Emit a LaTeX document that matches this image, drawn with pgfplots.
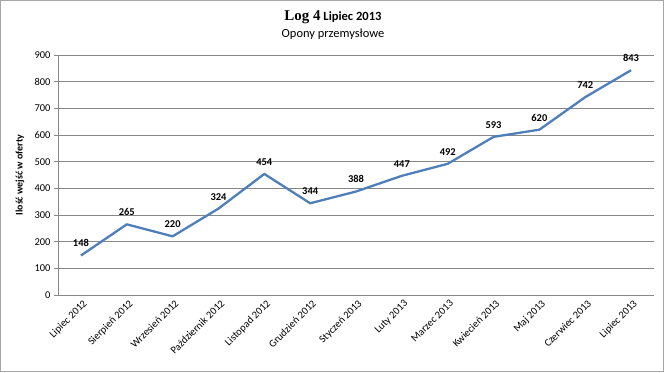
\documentclass[border=0pt]{standalone}
\usepackage{pgfplots}
\pgfplotsset{compat=1.18}
\usepackage{fontspec}
\setmainfont{Carlito}
\newfontfamily\titleserif{Liberation Serif}
\definecolor{lineblue}{HTML}{4F7FBA}
\definecolor{gridgray}{HTML}{878787}
\begin{document}
\begin{tikzpicture}[x=1bp,y=1bp]
\useasboundingbox (0,0) rectangle (666,372);
\draw[gray!70, line width=1bp] (0.5,1) rectangle (663.5,371.5);
\node[font=\fontsize{12.6}{14}\selectfont\bfseries] at (333,355) {{\titleserif\fontsize{15}{17}\selectfont Log 4} Lipiec 2013};
\node[font=\fontsize{12.5}{14}\selectfont] at (333,338) {Opony przemysłowe};
\begin{axis}[
  at={(58bp,77bp)}, anchor=south west,
  scale only axis, width=596bp, height=240bp,
  xmin=-0.5, xmax=12.5, ymin=0, ymax=900,
  ytick={0,100,...,900},
  xtick={0,...,12},
  xticklabels={Lipiec 2012,Sierpień 2012,Wrzesień 2012,Październik 2012,Listopad 2012,Grudzień 2012,Styczeń 2013,Luty 2013,Marzec 2013,Kwiecień 2013,Maj 2013,Czerwiec 2013,Lipiec 2013},
  xticklabel style={rotate=45, anchor=north east, font=\fontsize{10.5}{12}\selectfont, inner sep=1pt, xshift=2bp},
  yticklabel style={font=\fontsize{10.5}{12}\selectfont},
  /pgf/number format/assume math mode=true,
  axis x line*=bottom, axis y line*=left,
  axis line style={gridgray, line width=0.6bp, -},
  ymajorgrids, grid style={gridgray, line width=0.6bp},
  major x tick style={draw=none},
  major y tick style={gridgray, line width=0.6bp},
  tick align=outside, major tick length=4bp,
  ylabel={\bfseries Ilość wejść w oferty},
  ylabel style={font=\fontsize{10}{11}\selectfont, at={(axis description cs:0,0.5)}, anchor=center, yshift=38bp},
  clip=false,
]
\addplot[lineblue, line width=2.3bp, line join=round,
  nodes near coords, every node near coord/.append style={font=\fontsize{10.5}{12}\selectfont\bfseries, black, anchor=south, yshift=4bp},
  point meta=explicit symbolic]
coordinates {
(0,148) [148]
(1,265) [265]
(2,220) [220]
(3,324) [324]
(4,454) [454]
(5,344) [344]
(6,388) [388]
(7,447) [447]
(8,492) [492]
(9,593) [593]
(10,620) [620]
(11,742) [742]
(12,843) [843]
};
\end{axis}
\end{tikzpicture}
\end{document}
